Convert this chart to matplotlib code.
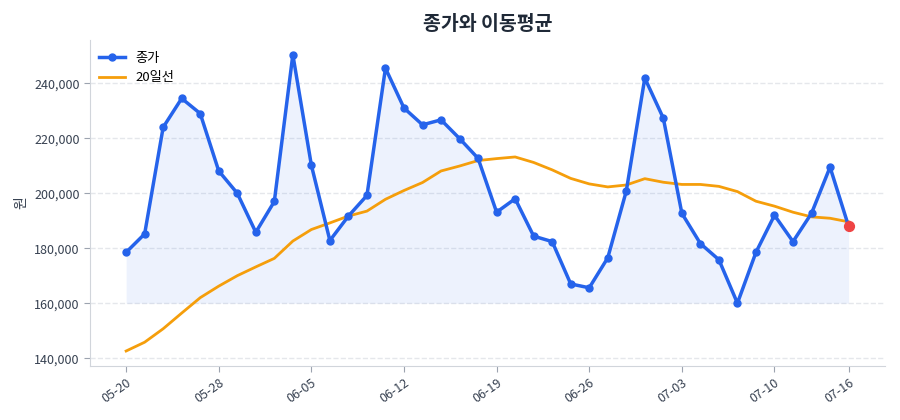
import numpy as np
import matplotlib
matplotlib.use("Agg")
import matplotlib.pyplot as plt
from matplotlib.ticker import FuncFormatter

plt.rcParams['font.family'] = ['Noto Sans CJK KR', 'DejaVu Sans']

# dates (MM-DD), one per trading day
dates = ['05-20', '05-21', '05-22', '05-23', '05-24', '05-28', '05-29', '05-30',
         '05-31', '06-03', '06-05', '06-06', '06-07', '06-10', '06-11', '06-12',
         '06-13', '06-14', '06-17', '06-18', '06-19', '06-20', '06-21', '06-24',
         '06-25', '06-26', '06-27', '06-28', '07-01', '07-02', '07-03', '07-04',
         '07-05', '07-08', '07-09', '07-10', '07-11', '07-12', '07-15', '07-16']

close = [178500, 185200, 224000, 234500, 229000, 208100, 200000, 185800,
         197000, 250400, 210200, 182800, 191700, 199200, 245500, 231000,
         224900, 226700, 219900, 212700, 193100, 198000, 184400, 182400,
         167000, 165600, 176500, 200800, 241900, 227300, 192700, 181700,
         175800, 160000, 178500, 192000, 182400, 192700, 209500, 188000]

ma20 = [142600, 145800, 150700, 156400, 162000, 166200, 170000, 173200,
        176300, 182600, 186800, 189200, 191700, 193500, 197800, 201000,
        203900, 208100, 209900, 211900, 212600, 213200, 211200, 208500,
        205400, 203400, 202300, 203000, 205300, 204000, 203200, 203200,
        202500, 200600, 197100, 195300, 193100, 191400, 190900, 189600]

tick_idx = [0, 5, 10, 15, 20, 25, 30, 35, 39]

x = np.arange(len(close))
close = np.array(close)
ma20 = np.array(ma20)

fig = plt.figure(figsize=(9, 4.2), dpi=100)
ax = fig.add_axes([0.1, 0.129, 0.883, 0.776])

blue = '#2563eb'
ax.fill_between(x, close, close.min(), color=blue, alpha=0.08, linewidth=0)
ax.plot(x, close, color=blue, linewidth=2.5, marker='o', markersize=5, label='종가', zorder=3)
ax.plot(x, ma20, color='#f59e0b', linewidth=2, label='20일선', zorder=2)
ax.scatter([x[-1]], [close[-1]], s=50, color='#ef4444', zorder=5)

ax.set_title('종가와 이동평균', fontsize=14, fontweight='bold', color='#1f2937', pad=7)
ax.set_ylabel('원', fontsize=10, color='#374151')

ax.set_xticks(tick_idx)
ax.set_xticklabels([dates[i] for i in tick_idx], rotation=35, ha='right',
                   rotation_mode='anchor')
ax.yaxis.set_major_formatter(FuncFormatter(lambda v, p: f'{int(v):,}'))
ax.tick_params(colors='#374151', labelsize=9)
ax.tick_params(axis='both', color='#9ca3af', length=4)

ax.grid(axis='y', linestyle='--', color='#e5e7eb', linewidth=1)
ax.set_axisbelow(True)
for s in ['top', 'right']:
    ax.spines[s].set_visible(False)
for s in ['left', 'bottom']:
    ax.spines[s].set_color('#d1d5db')

ax.legend(loc='upper left', bbox_to_anchor=(-0.004, 1.0), frameon=False, fontsize=9.5)

fig.savefig('out.png', dpi=100)
